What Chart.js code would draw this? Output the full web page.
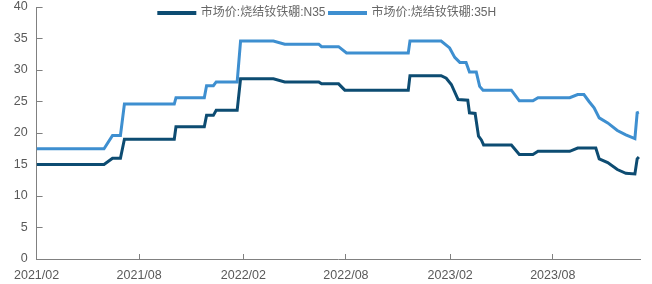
<!DOCTYPE html>
<html><head><meta charset="utf-8">
<script src="https://cdn.jsdelivr.net/npm/chart.js@4.4.0/dist/chart.umd.min.js"></script>
<style>html,body{margin:0;padding:0;background:#fff}canvas{display:block}</style>
</head><body>
<canvas id="c" width="652" height="284"></canvas>
<script>
const seriesNames = ['市场价:烧结钕铁硼:N35', '市场价:烧结钕铁硼:35H'];

const n35Dates = ['2021-02-01','2021-05-31','2021-06-15','2021-06-29','2021-07-06','2021-10-02','2021-10-05','2021-11-24','2021-11-28','2021-12-10','2021-12-15','2022-01-21','2022-01-27','2022-03-26','2022-04-15','2022-06-14','2022-06-19','2022-07-19','2022-07-30','2022-11-19','2022-11-22','2023-01-16','2023-01-25','2023-02-03','2023-02-15','2023-03-04','2023-03-07','2023-03-17','2023-03-23','2023-03-28','2023-04-01','2023-05-20','2023-06-03','2023-06-27','2023-07-06','2023-08-31','2023-09-14','2023-10-16','2023-10-22','2023-11-06','2023-11-23','2023-12-08','2023-12-24','2023-12-28','2023-12-31'];
const n35Values = [15.0,15.0,16.0,16.0,19.0,19.0,21.0,21.0,22.8,22.8,23.6,23.6,28.6,28.6,28.1,28.1,27.8,27.8,26.8,26.8,29.1,29.1,28.7,27.7,25.3,25.2,23.2,23.1,19.5,18.9,18.1,18.1,16.6,16.6,17.1,17.1,17.6,17.6,15.9,15.3,14.2,13.6,13.5,15.9,16.2];

const h35Dates = ['2021-02-01','2021-05-31','2021-06-15','2021-06-29','2021-07-06','2021-10-02','2021-10-05','2021-11-24','2021-11-28','2021-12-10','2021-12-15','2022-01-21','2022-01-27','2022-03-26','2022-04-15','2022-06-14','2022-06-19','2022-07-19','2022-08-02','2022-11-19','2022-11-22','2023-01-16','2023-01-31','2023-02-09','2023-02-18','2023-03-01','2023-03-07','2023-03-19','2023-03-25','2023-03-31','2023-05-20','2023-06-03','2023-06-27','2023-07-06','2023-08-31','2023-09-14','2023-09-25','2023-10-04','2023-10-13','2023-10-22','2023-11-06','2023-11-23','2023-12-08','2023-12-24','2023-12-28','2023-12-31'];
const h35Values = [17.5,17.5,19.6,19.6,24.6,24.6,25.6,25.6,27.5,27.5,28.1,28.1,34.6,34.6,34.1,34.1,33.7,33.7,32.7,32.7,34.6,34.6,33.5,32.0,31.2,31.2,29.7,29.7,27.4,26.8,26.8,25.1,25.1,25.6,25.6,26.1,26.1,25.0,24.0,22.4,21.6,20.4,19.7,19.1,23.2,23.3];

const tickDates = ['2021-02-01','2021-08-01','2022-02-01','2022-08-01','2023-02-01','2023-08-01'];
const tickLabels = ['2021/02','2021/08','2022/02','2022/08','2023/02','2023/08'];
const axisStart = '2021-02-01';
const axisEnd = '2024-01-02';

const dayOf = s => (Date.parse(s + 'T00:00:00Z') - Date.parse(axisStart + 'T00:00:00Z')) / 86400000;
const toPoints = (dates, vals) => dates.map((d, i) => ({x: dayOf(d), y: vals[i]}));
const tickDays = tickDates.map(dayOf);

const FONT = "'Liberation Sans', 'Noto Sans CJK SC', Arial, sans-serif";

const legendTweak = {
  id: 'legendTweak',
  beforeInit(chart) {
    const lg = chart.legend;
    if (!lg) return;
    const orig = lg.fit;
    lg.fit = function () { orig.call(this); this.height = 0; };
  },
  afterLayout(chart) {
    const lg = chart.legend;
    if (!lg) return;
    lg.left = 0; lg.right = 655; lg.width = 655;
    lg.top = 3; lg.bottom = 27;
  }
};

new Chart(document.getElementById('c'), {
  type: 'line',
  data: {
    datasets: [
      {label: seriesNames[0], data: toPoints(n35Dates, n35Values), borderColor: '#0D4C72', backgroundColor: '#0D4C72', borderWidth: 3, pointRadius: 0, tension: 0},
      {label: seriesNames[1], data: toPoints(h35Dates, h35Values), borderColor: '#3E8FD0', backgroundColor: '#3E8FD0', borderWidth: 3, pointRadius: 0, tension: 0}
    ]
  },
  options: {
    responsive: false,
    animation: false,
    devicePixelRatio: 1,
    layout: {padding: {top: 7, right: 12, left: 0, bottom: 0}},
    plugins: {
      tooltip: {enabled: false},
      legend: {
        position: 'top',
        align: 'center',
        labels: {boxWidth: 36, boxHeight: 1, padding: 4, color: '#666666', font: {family: FONT, size: 12}}
      }
    },
    scales: {
      x: {
        type: 'linear',
        min: 0,
        max: dayOf(axisEnd),
        afterBuildTicks(scale) { scale.ticks = tickDays.map(v => ({value: v})); },
        afterFit(scale) { scale.height = 25; scale.paddingRight = 0; },
        ticks: {
          autoSkip: false, maxRotation: 0, padding: 14, color: '#595959',
          font: {family: FONT, size: 12.5},
          callback(value) { const i = tickDays.indexOf(value); return i >= 0 ? tickLabels[i] : ''; }
        },
        grid: {drawOnChartArea: false, drawTicks: true, tickLength: -5, color: '#808080', tickWidth: 1},
        border: {display: true, color: '#808080', width: 1}
      },
      y: {
        min: 0, max: 40,
        afterFit(scale) { scale.width = 34; scale.paddingTop = 0; scale.paddingBottom = 0; },
        ticks: {stepSize: 5, padding: 15, color: '#595959', font: {family: FONT, size: 12.5}},
        grid: {drawOnChartArea: false, drawTicks: true, tickLength: -6, color: '#808080', tickWidth: 1},
        border: {display: true, color: '#808080', width: 1}
      }
    }
  },
  plugins: [legendTweak]
});
</script>
</body></html>
